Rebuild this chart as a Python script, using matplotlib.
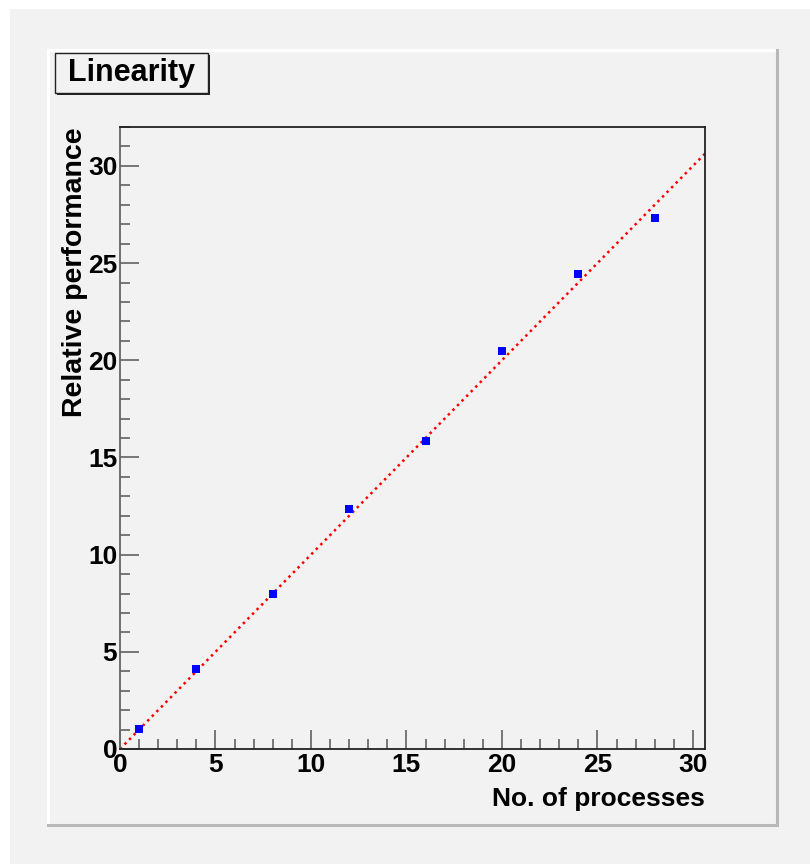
import matplotlib
matplotlib.use("Agg")
import matplotlib.pyplot as plt
from matplotlib.patches import Rectangle
from matplotlib.lines import Line2D
from matplotlib.ticker import MultipleLocator
import numpy as np

# ---- data ----
processes = [1, 4, 8, 12, 16, 20, 24, 28]
rel_perf = [1.02, 4.12, 7.98, 12.35, 15.85, 20.48, 24.45, 27.33]
fit_slope = 1.0
title = "Linearity"
xlabel = "No. of processes"
ylabel = "Relative performance"
xlim = (0, 30.63)
ylim = (0, 32.0)

W, H = 810, 864
DPI = 100
BG = "#f2f2f2"
FONT = "Liberation Sans"

fig = plt.figure(figsize=(W / DPI, H / DPI), dpi=DPI, facecolor="white")

def px(x, y):
    return x / W, 1 - y / H

# canvas grey area (white border top/left)
fig.patches.append(Rectangle((10 / W, 0), 1, 1 - 9 / H, transform=fig.transFigure,
                             facecolor=BG, edgecolor="none", zorder=-10))

# pad bevel border
L, T, R, B = 48, 50, 777, 825
for (x0, y0, x1, y1, c) in [
    (L, T, R, T, "white"), (L, T, L, B, "white"),
    (L, B, R, B, "#b8b8b8"), (R, T, R, B, "#b8b8b8")]:
    a, b = px(x0, y0)
    c2, d = px(x1, y1)
    fig.lines.append(Line2D([a, c2], [b, d], transform=fig.transFigure,
                            color=c, lw=2.2, zorder=-5))

# axes
ax_l, ax_r, ax_t, ax_b = 120, 705, 127, 749
ax = fig.add_axes([ax_l / W, 1 - ax_b / H, (ax_r - ax_l) / W, (ax_b - ax_t) / H])
ax.set_zorder(2)
ax.set_facecolor(BG)
ax.set_xlim(*xlim)
ax.set_ylim(*ylim)

xs = np.array(xlim)
ax.plot(xs, fit_slope * xs, color="red", lw=1.8, linestyle=(0, (1, 1.6)),
        zorder=2, clip_on=True)
ax.plot(processes, rel_perf, linestyle="none", marker="s", markersize=6,
        color="#0000ff", markeredgewidth=0, zorder=3)

ax.xaxis.set_major_locator(MultipleLocator(5))
ax.xaxis.set_minor_locator(MultipleLocator(1))
ax.yaxis.set_major_locator(MultipleLocator(5))
ax.yaxis.set_minor_locator(MultipleLocator(1))
ax.tick_params(which="both", direction="in", top=False, right=False,
               color="#555555", width=1.1)
ax.tick_params(which="major", length=13.5)
ax.tick_params(which="minor", length=7.2)
ax.tick_params(axis="x", which="major", pad=3)
ax.tick_params(axis="y", which="major", pad=2)
for lab in ax.get_xticklabels() + ax.get_yticklabels():
    lab.set_fontfamily(FONT)
    lab.set_fontweight("bold")
    lab.set_fontsize(19)
for s in ax.spines.values():
    s.set_color("#222222")
    s.set_linewidth(1.3)
ax.spines["left"].set_color("#666666")

ax.set_xlabel(xlabel, fontfamily=FONT, fontweight="bold", fontsize=19,
              loc="right", labelpad=7)
ax.set_ylabel(ylabel, fontfamily=FONT, fontweight="bold", fontsize=20.5,
              loc="top", labelpad=0)

# title box with shadow
tx0, ty0, tx1, ty1 = 55, 53, 208, 93
sx, sy = px(tx0 + 2, ty1 + 2)
fig.patches.append(Rectangle((sx, sy), (tx1 - tx0) / W, (ty1 - ty0) / H,
                             transform=fig.transFigure, facecolor="#222222",
                             edgecolor="none", zorder=4))
bx, by = px(tx0, ty1)
fig.patches.append(Rectangle((bx, by), (tx1 - tx0) / W, (ty1 - ty0) / H,
                             transform=fig.transFigure, facecolor=BG,
                             edgecolor="#222222", lw=1.0, zorder=5))
tx, ty = px((tx0 + tx1) / 2, (ty0 + ty1) / 2)
fig.text(tx, ty, title, ha="center", va="center", fontfamily=FONT,
         fontweight="bold", fontsize=22, zorder=6)

fig.savefig("out.png", dpi=DPI, facecolor="white")
